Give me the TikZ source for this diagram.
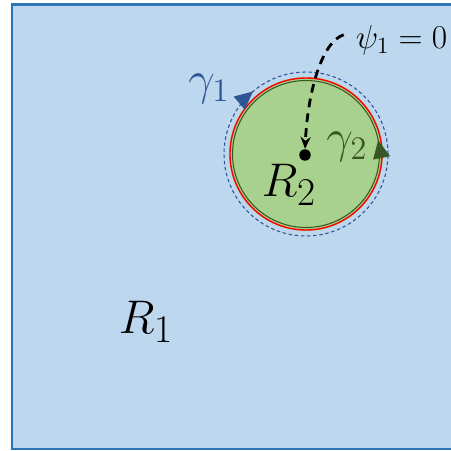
\documentclass[tikz,border=0pt]{standalone}
\usepackage{tikz}
\usetikzlibrary{arrows.meta,decorations.markings}
\definecolor{regionblue}{RGB}{189,215,238}
\definecolor{edgeblue}{RGB}{46,117,182}
\definecolor{gammablue}{RGB}{47,85,151}
\definecolor{regiongreen}{RGB}{169,209,142}
\definecolor{gammagreen}{RGB}{56,87,35}
\tikzset{
  lbl/.style={inner sep=1pt, font=\Huge, scale=1.08},
  gam/.style={inner sep=1pt, font=\huge, scale=1.3},
  flow/.style={-{Stealth[length=2.4mm,width=2mm]}, line width=1.6pt,
               dash pattern=on 5pt off 3.5pt},
}

\begin{document}
\begin{tikzpicture}[x=0.02cm,y=0.02cm]
  \clip (0,0) rectangle (451,451);
  % region R1
  \draw[edgeblue, line width=1.2pt, fill=regionblue] (12,2) rectangle (470,446.5);

  % region R2 and its boundaries
  \coordinate (c) at (306,297);
  \fill[regiongreen] (c) circle (77);
  \draw[red, line width=0.8pt] (c) circle (76);
  \draw[gammagreen, line width=0.6pt, postaction={decorate, decoration={markings,
      mark=at position 0.03 with {\arrow{Triangle[length=3.6mm,width=3.4mm]}}}}]
    (c) circle (73.5);
  \draw[gammablue, line width=0.6pt, dash pattern=on 2pt off 1.5pt,
    postaction={decorate, decoration={markings,
      mark=at position 0.362 with {\arrowreversed{Triangle[length=3.6mm,width=3.4mm]}}}}]
    (c) circle (82);

  % labels
  \node[lbl] (r1) at (146,129) {$R_1$};
  \node[lbl] (r2) at (289,266) {$R_2$};
  \node[gam, text=gammablue] (g1) at (209,362) {$\gamma_1$};
  \node[gam, text=gammagreen] (g2) at (347,304) {$\gamma_2$};
  \node[font=\LARGE, scale=1.1, anchor=west] (psi) at (349,411) {$\psi_1=0$};

  % centre point and the line psi_1 = 0
  \node[circle, fill=black, inner sep=0pt, minimum size=0.23cm] (ctr) at (305,296) {};
  \draw[flow] ([xshift=-3pt,yshift=3pt]psi.west) .. controls (322,409) and (308,361) .. (ctr.north);
\end{tikzpicture}
\end{document}
